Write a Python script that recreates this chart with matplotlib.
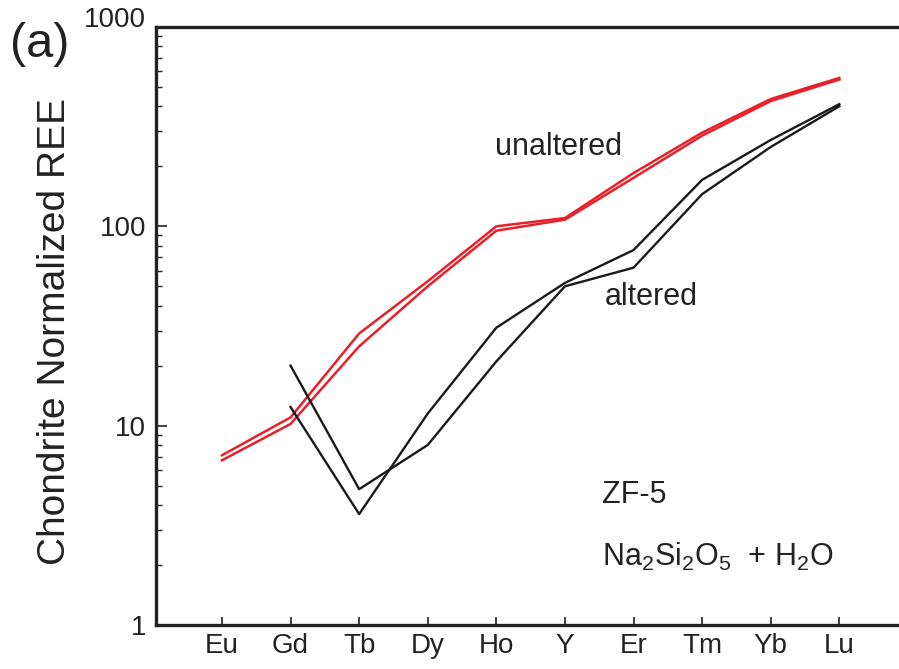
import numpy as np
import matplotlib.pyplot as plt
from matplotlib.transforms import ScaledTranslation

plt.rcParams['font.family'] = ['Liberation Sans', 'DejaVu Sans']
plt.rcParams['mathtext.fontset'] = 'custom'
plt.rcParams['mathtext.rm'] = 'Liberation Sans'

# REE order on the x axis
elements = ['Eu', 'Gd', 'Tb', 'Dy', 'Ho', 'Y', 'Er', 'Tm', 'Yb', 'Lu']

# unaltered (red) patterns
unaltered_1 = [7.1, 11.0, 29.0, 53.0, 100.0, 110.0, 185.0, 295.0, 435.0, 555.0]
unaltered_2 = [6.7, 10.2, 25.0, 50.0, 95.0, 108.0, 175.0, 285.0, 425.0, 545.0]

# altered (black) patterns, start at Gd
altered_1 = [np.nan, 20.0, 4.8, 8.0, 21.0, 50.0, 62.0, 145.0, 250.0, 400.0]
altered_2 = [np.nan, 12.4, 3.6, 11.5, 31.0, 52.0, 76.0, 171.0, 271.0, 410.0]

fig = plt.figure(figsize=(8.99, 6.69), dpi=100)
ax = fig.add_axes([0.1735, 0.0658, 0.8265, 0.8939])

x = np.arange(len(elements))
red = '#e8202a'
ax.plot(x, unaltered_1, color=red, lw=1.8)
ax.plot(x, unaltered_2, color=red, lw=1.8)
ax.plot(x, altered_1, color='#1a1a1a', lw=1.7)
ax.plot(x, altered_2, color='#1a1a1a', lw=1.7)

ax.set_yscale('log')
ax.set_ylim(1, 1000)
ax.set_xlim(-0.962, 9.87)
ax.set_xticks(x)
ax.set_xticklabels(elements, fontsize=20)
ax.set_yticks([1, 10, 100, 1000])
ax.set_yticklabels(['1', '10', '100', '1000'], fontsize=20)

ax.spines['right'].set_visible(False)
for s in ['left', 'bottom', 'top']:
    ax.spines[s].set_linewidth(2.4)
    ax.spines[s].set_color('#222222')

ax.tick_params(axis='both', which='both', direction='in', top=False, right=False,
               colors='#222222')
ax.tick_params(axis='x', which='major', length=6, width=1.2, pad=6)
ax.tick_params(axis='y', which='major', length=8, width=1.2, pad=7)
ax.tick_params(axis='y', which='minor', length=4, width=1.0)
ax.tick_params(axis='x', which='minor', bottom=False)

# lift the top tick label a little, as in the original
lab = ax.get_yticklabels()[-1]
lab.set_transform(lab.get_transform() + ScaledTranslation(0, 10 / 100, fig.dpi_scale_trans))

ax.set_ylabel('Chondrite Normalized REE', fontsize=28, color='#222222')
ax.yaxis.set_label_coords(-0.112, 0.49)

fig.text(0.011, 0.933, '(a)', fontsize=35, va='center', ha='left', color='#222222')

ax.text(0.456, 0.799, 'unaltered', transform=ax.transAxes, fontsize=22, va='center',
        color='#222222')
ax.text(0.604, 0.548, 'altered', transform=ax.transAxes, fontsize=22, va='center',
        color='#222222')
ax.text(0.600, 0.217, 'ZF-5', transform=ax.transAxes, fontsize=22, va='center',
        color='#222222')
ax.text(0.600, 0.114, r'Na$_2$Si$_2$O$_5$  + H$_2$O', transform=ax.transAxes, fontsize=22,
        va='center', color='#222222')

fig.savefig('out.png', dpi=100)
